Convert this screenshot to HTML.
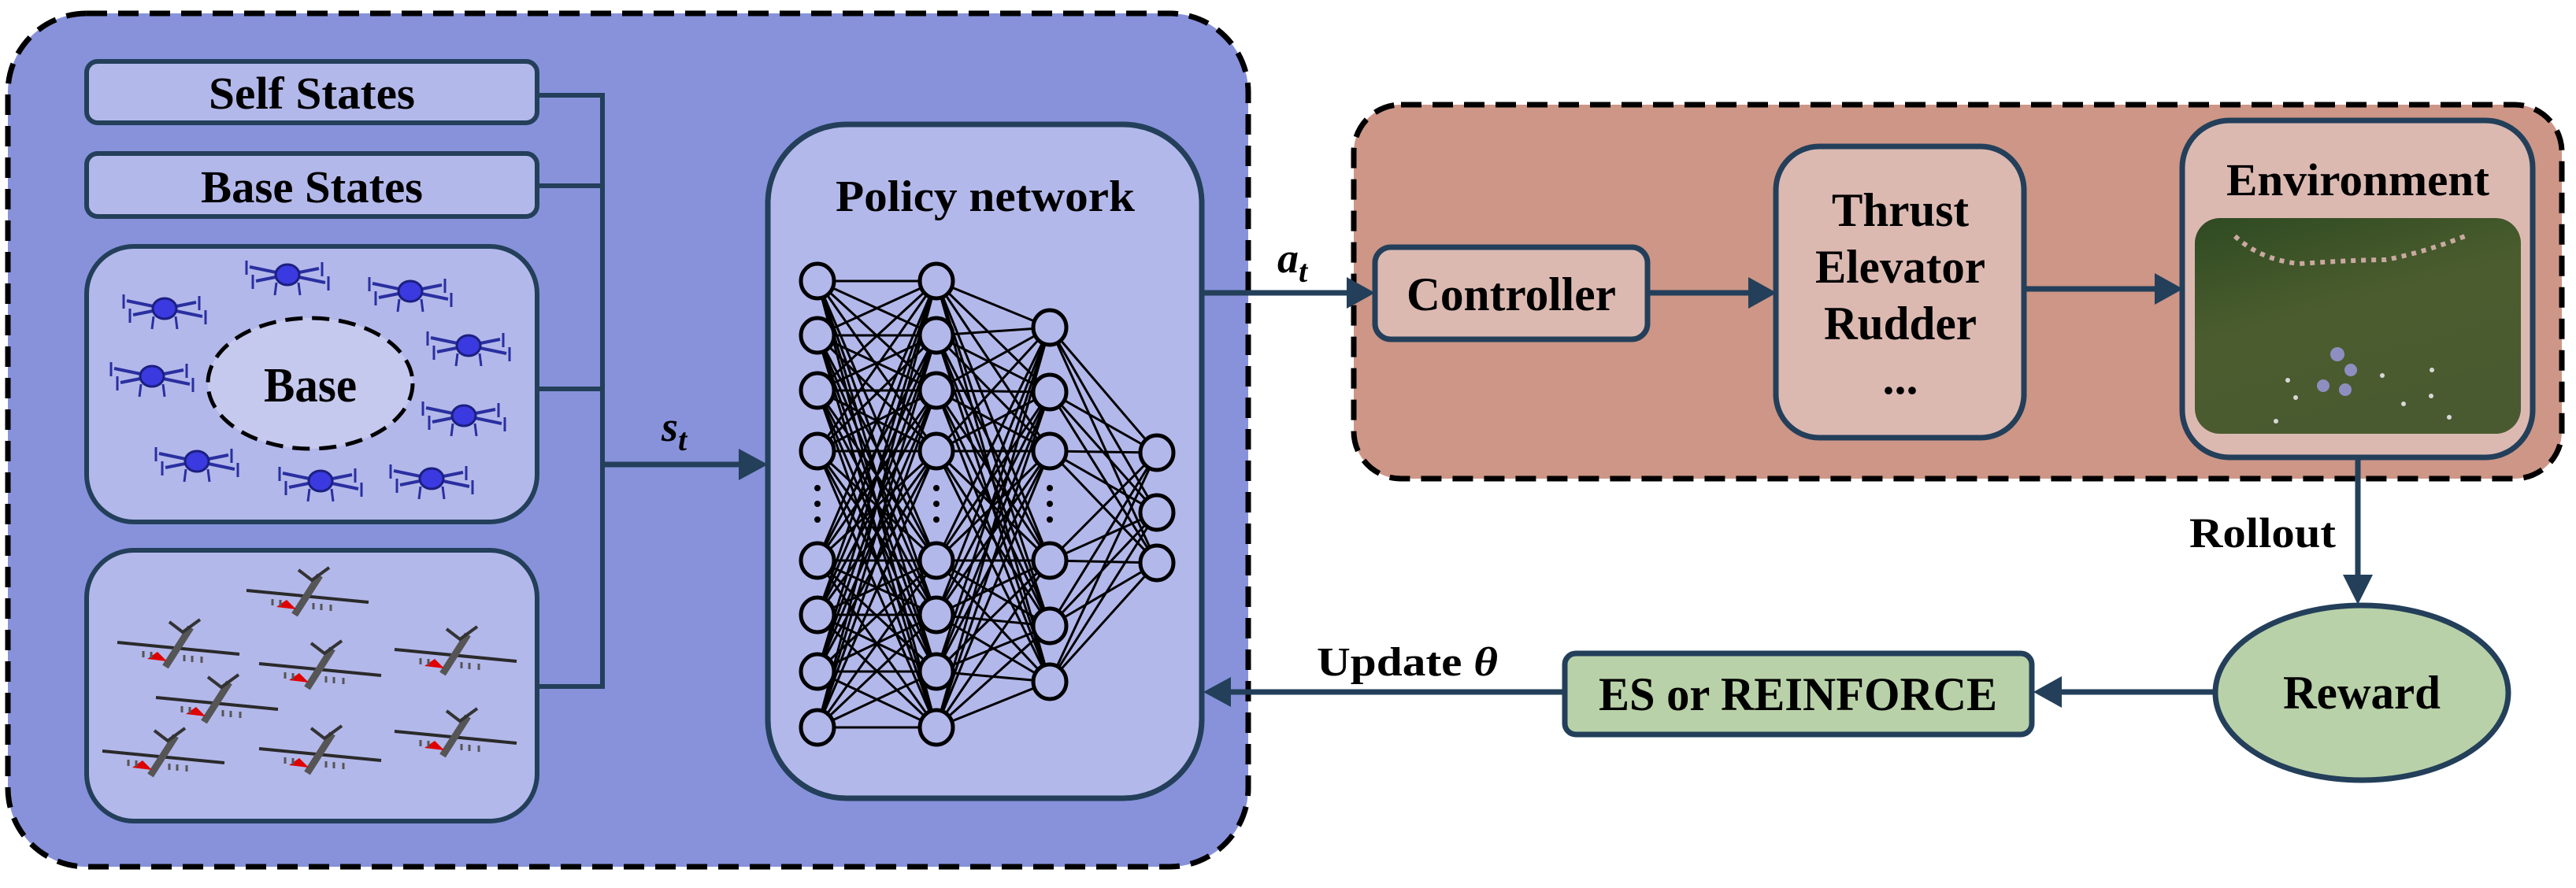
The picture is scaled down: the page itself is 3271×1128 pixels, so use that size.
<!DOCTYPE html>
<html><head><meta charset="utf-8"><style>
html,body{margin:0;padding:0;background:#fff;}
svg{display:block;}
text{font-family:"Liberation Serif",serif;font-weight:bold;fill:#000;}
</style></head><body>
<svg id="s" width="3271" height="1128" viewBox="0 0 3271 1128" xmlns="http://www.w3.org/2000/svg">
<defs>
<g id="drone">
  <path d="M-48,-10 L48,10 M-40,8 L40,-8" stroke="#2a2fa0" stroke-width="4" fill="none"/>
  <path d="M-52,-18 L-52,0 M52,2 L52,20 M-44,0 L-44,18 M44,-16 L44,2 M-14,10 L-16,26 M14,10 L16,26" stroke="#2a2fa0" stroke-width="3" fill="none"/>
  <ellipse cx="0" cy="0" rx="15" ry="13" fill="#3a3ae0" stroke="#1c1f80" stroke-width="3"/>
</g>
<g id="plane">
  <path d="M-73,-9 L82,6" stroke="#2a2a2a" stroke-width="4"/>
  <path d="M-12,22 L20,-28" stroke="#555" stroke-width="9"/>
  <path d="M-7,-35 L10,-22 L32,-38" stroke="#333" stroke-width="4" fill="none"/>
  <path d="M-35,12 L-22,3 L-10,15 Z" fill="#e00000"/>
  <path d="M-40,2 v8 M-30,3 v8 M12,7 v8 M22,8 v8 M34,9 v8" stroke="#555" stroke-width="3"/>
</g>
</defs>
<!-- left dashed container -->
<rect x="10" y="17" width="1575" height="1084" rx="100" fill="#8792db" stroke="#000" stroke-width="7" stroke-dasharray="26,14"/>
<!-- bus lines -->
<path d="M682,121 H765 V872 H682 M682,236 H765 M682,494 H765" stroke="#233f5a" stroke-width="6" fill="none"/>
<path d="M765,590 H945" stroke="#233f5a" stroke-width="7"/>
<polygon points="975,590 938,570 938,610" fill="#233f5a"/>
<text x="840" y="560" font-size="54" font-style="italic">s<tspan font-size="40" dy="12">t</tspan></text>
<!-- boxes -->
<rect x="110" y="78" width="572" height="78" rx="14" fill="#b3b8ea" stroke="#233f5a" stroke-width="6"/>
<text x="396" y="138" font-size="58" text-anchor="middle" textLength="262" lengthAdjust="spacingAndGlyphs">Self States</text>
<rect x="110" y="195" width="572" height="80" rx="14" fill="#b3b8ea" stroke="#233f5a" stroke-width="6"/>
<text x="396" y="257" font-size="58" text-anchor="middle" textLength="282" lengthAdjust="spacingAndGlyphs">Base States</text>
<rect x="110" y="313" width="572" height="350" rx="60" fill="#b3b8ea" stroke="#233f5a" stroke-width="6"/>
<ellipse cx="394" cy="487" rx="130" ry="83" fill="#c6c9ee" stroke="#000" stroke-width="5" stroke-dasharray="22,12"/>
<text x="394" y="510" font-size="62" text-anchor="middle" textLength="118" lengthAdjust="spacingAndGlyphs">Base</text>
<use href="#drone" x="209" y="392"/><use href="#drone" x="365" y="349"/><use href="#drone" x="521" y="370"/>
<use href="#drone" x="595" y="439"/><use href="#drone" x="193" y="478"/><use href="#drone" x="589" y="528"/>
<use href="#drone" x="250" y="586"/><use href="#drone" x="407" y="611"/><use href="#drone" x="548" y="608"/>
<rect x="110" y="699" width="572" height="344" rx="60" fill="#b3b8ea" stroke="#233f5a" stroke-width="6"/>
<use href="#plane" x="386" y="759"/><use href="#plane" x="222" y="825"/><use href="#plane" x="574" y="834"/>
<use href="#plane" x="402" y="852"/><use href="#plane" x="271" y="895"/><use href="#plane" x="203" y="963"/>
<use href="#plane" x="402" y="960"/><use href="#plane" x="574" y="938"/>
<!-- policy -->
<rect x="975" y="158" width="551" height="856" rx="100" fill="#b3b8ea" stroke="#233f5a" stroke-width="7"/>
<text x="1251" y="268" font-size="56" text-anchor="middle" textLength="380" lengthAdjust="spacingAndGlyphs">Policy network</text>
<g id="nn" stroke="#000" stroke-width="3"></g>
<!-- update arrow -->
<path d="M1986,879 H1560" stroke="#233f5a" stroke-width="7"/>
<polygon points="1528,879 1563,860 1563,898" fill="#233f5a"/>
<text x="1672" y="858" font-size="52" textLength="230" lengthAdjust="spacingAndGlyphs">Update <tspan font-style="italic">θ</tspan></text>
<!-- red container -->
<rect x="1719" y="133" width="1534" height="475" rx="60" fill="#cd9686" stroke="#000" stroke-width="7" stroke-dasharray="26,14"/>
<!-- a_t arrow -->
<path d="M1526,372 H1715" stroke="#233f5a" stroke-width="7"/>
<polygon points="1746,372 1710,352 1710,392" fill="#233f5a"/>
<text x="1622" y="346" font-size="54" font-style="italic">a<tspan font-size="40" dy="12">t</tspan></text>
<rect x="1746" y="314" width="346" height="117" rx="20" fill="#dbb9b1" stroke="#233f5a" stroke-width="7"/>
<text x="1919" y="394" font-size="60" text-anchor="middle" textLength="266" lengthAdjust="spacingAndGlyphs">Controller</text>
<path d="M2092,372 H2225" stroke="#233f5a" stroke-width="7"/>
<polygon points="2256,372 2220,352 2220,392" fill="#233f5a"/>
<rect x="2255" y="186" width="315" height="370" rx="55" fill="#dbb9b1" stroke="#233f5a" stroke-width="7"/>
<text x="2413" y="287" font-size="60" text-anchor="middle" textLength="174" lengthAdjust="spacingAndGlyphs">Thrust</text>
<text x="2413" y="359" font-size="60" text-anchor="middle" textLength="216" lengthAdjust="spacingAndGlyphs">Elevator</text>
<text x="2413" y="431" font-size="60" text-anchor="middle" textLength="194" lengthAdjust="spacingAndGlyphs">Rudder</text>
<text x="2413" y="500" font-size="60" text-anchor="middle">...</text>
<path d="M2570,367 H2740" stroke="#233f5a" stroke-width="7"/>
<polygon points="2772,367 2736,347 2736,387" fill="#233f5a"/>
<rect x="2771" y="153" width="445" height="428" rx="60" fill="#dbb9b1" stroke="#233f5a" stroke-width="7"/>
<text x="2994" y="248" font-size="58" text-anchor="middle" textLength="334" lengthAdjust="spacingAndGlyphs">Environment</text>
<defs><linearGradient id="g" x1="0" y1="0" x2="0.4" y2="1"><stop offset="0" stop-color="#2f4a22"/><stop offset="0.5" stop-color="#4b5d2e"/><stop offset="1" stop-color="#4a5a30"/></linearGradient></defs>
<rect x="2787" y="277" width="414" height="274" rx="32" fill="url(#g)"/>
<path d="M2838,300 Q2870,330 2920,335 Q2990,330 3030,330 Q3080,320 3130,300" stroke="#c9a9a0" stroke-width="6" stroke-dasharray="6,7" fill="none"/>
<g fill="#8e8fc0"><circle cx="2968" cy="450" r="9"/><circle cx="2985" cy="470" r="8"/><circle cx="2950" cy="490" r="8"/><circle cx="2978" cy="495" r="8"/></g>
<g fill="#d8d8d8"><circle cx="2905" cy="483" r="3"/><circle cx="2915" cy="505" r="3"/><circle cx="3025" cy="477" r="3"/><circle cx="3088" cy="470" r="3"/><circle cx="3087" cy="503" r="3"/><circle cx="3052" cy="513" r="3"/><circle cx="2890" cy="535" r="3"/><circle cx="3110" cy="530" r="3"/></g>
<!-- rollout -->
<path d="M2994,581 V735" stroke="#233f5a" stroke-width="7"/>
<polygon points="2994,768 2975,730 3013,730" fill="#233f5a"/>
<text x="2780" y="695" font-size="54" textLength="186" lengthAdjust="spacingAndGlyphs">Rollout</text>
<ellipse cx="2999" cy="880" rx="186" ry="111" fill="#b8d1a8" stroke="#233f5a" stroke-width="7"/>
<text x="2999" y="900" font-size="60" text-anchor="middle" textLength="200" lengthAdjust="spacingAndGlyphs">Reward</text>
<path d="M2813,879 H2615" stroke="#233f5a" stroke-width="7"/>
<polygon points="2582,879 2618,859 2618,899" fill="#233f5a"/>
<rect x="1987" y="830" width="593" height="103" rx="14" fill="#b8d1a8" stroke="#233f5a" stroke-width="7"/>
<text x="2283" y="902" font-size="60" text-anchor="middle" textLength="506" lengthAdjust="spacingAndGlyphs">ES or REINFORCE</text>
</svg>
<script>
var cols=[[1038,[357,426,496,573,712,781,853,924]],[1189,[357,426,496,573,712,781,853,924]],[1333,[416,498,573,712,795,866]],[1469,[575,651,715]]];
var g=document.getElementById('nn'),h='';
for(var c=0;c<3;c++){var a=cols[c],b=cols[c+1];a[1].forEach(function(y1){b[1].forEach(function(y2){h+='<line x1="'+a[0]+'" y1="'+y1+'" x2="'+b[0]+'" y2="'+y2+'"/>';});});}
cols.forEach(function(c){c[1].forEach(function(y){h+='<ellipse cx="'+c[0]+'" cy="'+y+'" rx="21" ry="22" fill="#b3b8ea" stroke-width="5"/>';});});
[1038,1189,1333].forEach(function(x){[620,640,660].forEach(function(y){h+='<circle cx="'+x+'" cy="'+y+'" r="4" fill="#000" stroke="none"/>';});});
g.innerHTML=h;
</script>
</body></html>
